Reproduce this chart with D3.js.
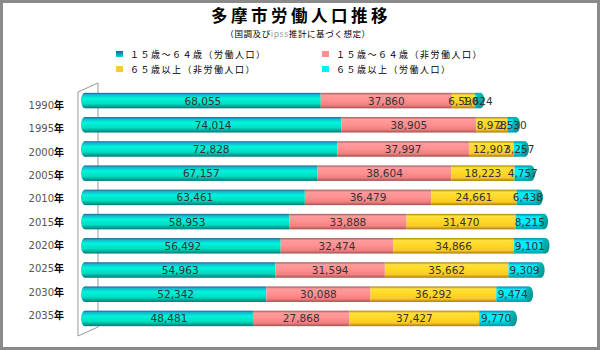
<!DOCTYPE html>
<html>
<head>
<meta charset="utf-8">
<script src="https://cdn.jsdelivr.net/npm/d3@7"></script>
<style>
  body { margin: 0; background: #fff; }
  svg { display: block; }
  .cat { font-family: "DejaVu Sans", sans-serif; font-size: 10px; fill: #555; }
  .val { font-family: "DejaVu Sans", sans-serif; font-size: 10.5px; fill: #333; }
</style>
</head>
<body>
<div id="chart"></div>
<script>
// --- data ---
const years = ["1990", "1995", "2000", "2005", "2010", "2015", "2020", "2025", "2030", "2035"];
const workAge = [68055, 74014, 72828, 67157, 63461, 58953, 56492, 54963, 52342, 48481];
const workAgeNon = [37860, 38905, 37997, 38604, 36479, 33888, 32474, 31594, 30088, 27868];
const elderNon = [6590, 8978, 12907, 18223, 24661, 31470, 34866, 35662, 36292, 37427];
const elderWork = [1624, 2530, 3257, 4757, 6438, 8215, 9101, 9309, 9474, 9770];
const seriesNames = ["１５歳～６４歳（労働人口）", "１５歳～６４歳（非労働人口）", "６５歳以上（非労働人口）", "６５歳以上（労働人口）"];

const W = 600, H = 350;
const svg = d3.select("#chart").append("svg").attr("width", W).attr("height", H);
const defs = svg.append("defs");

// cylinder-like vertical gradients
const grads = [
  { id: "g0", stops: [[0, "#1a5e9a"], [0.12, "#12b8cc"], [0.35, "#00f4dc"], [0.7, "#00dcc0"], [1, "#007a7a"]] },
  { id: "g1", stops: [[0, "#a05a5a"], [0.15, "#ff9c9c"], [0.5, "#ff9090"], [0.8, "#f08080"], [1, "#a85050"]] },
  { id: "g2", stops: [[0, "#a88400"], [0.15, "#ffe040"], [0.5, "#ffd820"], [0.8, "#f8c830"], [1, "#a87c00"]] },
  { id: "g3", stops: [[0, "#0088a8"], [0.2, "#00f0ff"], [0.6, "#00ecf8"], [1, "#0098a8"]] }
];
grads.forEach(g => {
  const lg = defs.append("linearGradient").attr("id", g.id).attr("x1", 0).attr("y1", 0).attr("x2", 0).attr("y2", 1);
  g.stops.forEach(s => lg.append("stop").attr("offset", s[0]).attr("stop-color", s[1]));
});
const capGrad = defs.append("linearGradient").attr("id", "cap").attr("x1", 0).attr("y1", 0).attr("x2", 1).attr("y2", 1);
capGrad.append("stop").attr("offset", 0).attr("stop-color", "#00c8c8");
capGrad.append("stop").attr("offset", 1).attr("stop-color", "#008888");
const legGrad = ["url(#lg0)", "#ff9090", "#ffc830", "#00f0ff"];
const lg0 = defs.append("linearGradient").attr("id", "lg0").attr("x1", 0).attr("y1", 0).attr("x2", 0).attr("y2", 1);
lg0.append("stop").attr("offset", 0).attr("stop-color", "#1a5eb0");
lg0.append("stop").attr("offset", 1).attr("stop-color", "#00e0c0");

// outer frame
svg.append("rect").attr("x", 1.5).attr("y", 1.5).attr("width", W - 3).attr("height", H - 3)
  .attr("fill", "#fff").attr("stroke", "#8a8a8a").attr("stroke-width", 3);

// titles
svg.append("text").attr("x", 301).attr("y", 22).attr("text-anchor", "middle")
  .attr("font-family", "Noto Sans CJK JP").attr("font-weight", "bold").attr("font-size", 16.5)
  .attr("letter-spacing", 3.5).attr("fill", "#000").text("多摩市労働人口推移");
const sub = svg.append("text").attr("x", 298).attr("y", 37).attr("text-anchor", "middle")
  .attr("font-family", "Noto Sans CJK JP").attr("font-size", 8.5).attr("letter-spacing", 0.6).attr("fill", "#000");
sub.append("tspan").text("（国調及び");
sub.append("tspan").attr("fill", "#999").text("ipss");
sub.append("tspan").text("推計に基づく想定）");

// legend
const legPos = [[119, 54], [325, 54], [119, 69], [325, 69]];
seriesNames.forEach((name, k) => {
  const [lx, ly] = legPos[k];
  svg.append("rect").attr("x", lx - 3).attr("y", ly - 3).attr("width", 7).attr("height", 6).attr("fill", legGrad[k]);
  svg.append("text").attr("x", lx + 11).attr("y", ly + 3.5)
    .attr("font-family", "Noto Sans CJK JP").attr("font-size", 9).attr("letter-spacing", 1.5)
    .attr("fill", "#000").text(name);
});

// scales
const x = d3.scaleLinear().domain([0, 140000]).range([85, 570]);
const y = d3.scaleBand().domain(years).range([88, 331]).paddingInner(0.36).paddingOuter(0.2);
const yLab = d3.scalePoint().domain(years).range([105, 315]);

// 3D walls
const wall = svg.append("g").attr("stroke", "#999").attr("fill", "none").attr("stroke-width", 1);
wall.append("path").attr("d", "M78,92 L98,83 L98,327");
wall.append("path").attr("d", "M78,92 L78,336 L98,327");

// category labels
const cats = svg.append("g");
years.forEach(yr => {
  const t = cats.append("text").attr("x", 64).attr("y", yLab(yr) + 4).attr("text-anchor", "end").attr("class", "cat");
  t.append("tspan").text(yr);
  t.append("tspan").attr("fill", "#000").attr("font-family", "Noto Sans CJK JP").attr("font-weight", "bold").text("年");
});

// stacked bars
const series = [workAge, workAgeNon, elderNon, elderWork];
const bh = y.bandwidth();
const rx = 4;
years.forEach((yr, i) => {
  const g = svg.append("g");
  const y0 = y(yr);
  let acc = 0;
  const segs = series.map((s, k) => {
    const seg = { k, a: acc, b: acc + s[i], v: s[i] };
    acc += s[i];
    return seg;
  });
  // left rounded cap
  g.append("ellipse").attr("cx", x(0)).attr("cy", y0 + bh / 2).attr("rx", rx).attr("ry", bh / 2).attr("fill", "url(#g0)");
  segs.forEach(s => {
    g.append("rect").attr("x", x(s.a)).attr("y", y0).attr("width", x(s.b) - x(s.a)).attr("height", bh)
      .attr("fill", `url(#g${s.k})`);
  });
  // right end cap
  g.append("ellipse").attr("cx", x(acc)).attr("cy", y0 + bh / 2).attr("rx", rx).attr("ry", bh / 2)
    .attr("fill", "url(#cap)");
  segs.forEach(s => {
    g.append("text").attr("class", "val").attr("x", (x(s.a) + x(s.b)) / 2).attr("y", y0 + bh / 2 + 4)
      .attr("text-anchor", "middle").text(d3.format(",")(s.v));
  });
});

// bottom frame line
svg.append("line").attr("x1", 3).attr("x2", W - 3).attr("y1", 348).attr("y2", 348).attr("stroke", "#8a8a8a");
</script>
</body>
</html>
